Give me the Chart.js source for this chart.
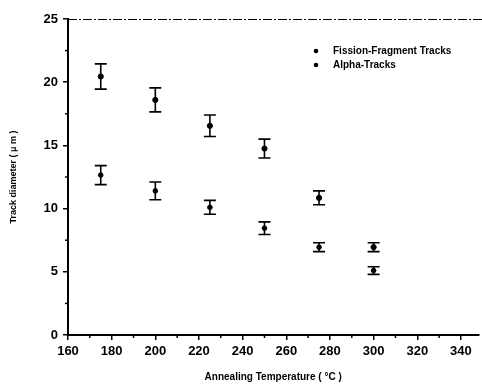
<!DOCTYPE html>
<html>
<head>
<meta charset="utf-8">
<script src="https://cdn.jsdelivr.net/npm/chart.js@4.4.0/dist/chart.umd.min.js"></script>
<style>
  html, body { margin: 0; padding: 0; background: #fff; }
  #c { display: block; }
</style>
</head>
<body>
<canvas id="c" width="482" height="386"></canvas>
<script>
// ---- data ----
const temps = [175, 200, 225, 250, 275, 300];
const fissionDiam = [20.45, 18.6, 16.55, 14.75, 10.85, 6.95];
const fissionErr  = [1.0, 0.95, 0.85, 0.75, 0.55, 0.35];
const alphaDiam   = [12.65, 11.4, 10.1, 8.45, 6.95, 5.1];
const alphaErr    = [0.75, 0.7, 0.55, 0.5, 0.35, 0.3];
const seriesLabels = ['Fission-Fragment Tracks', 'Alpha-Tracks'];
const xTicks = [160, 180, 200, 220, 240, 260, 280, 300, 320, 340];
const xMinorTicks = [170, 190, 210, 230, 250, 270, 290, 310, 330];
const yTicks = [0, 5, 10, 15, 20, 25];
const yMinorTicks = [2.5, 7.5, 12.5, 17.5, 22.5];

const FONT = '"Liberation Sans", Arial, sans-serif';

function pts(xs, ys, es) {
  return xs.map((x, i) => ({ x: x, y: ys[i], err: es[i] }));
}

const extras = {
  id: 'extras',
  beforeDatasetsDraw(chart) {
    const ctx = chart.ctx;
    const xs = chart.scales.x, ys = chart.scales.y;
    ctx.save();
    ctx.strokeStyle = '#000';
    ctx.lineWidth = 1.6;
    chart.data.datasets.forEach(ds => {
      ds.data.forEach(p => {
        const px = xs.getPixelForValue(p.x);
        const top = ys.getPixelForValue(p.y + p.err);
        const bot = ys.getPixelForValue(p.y - p.err);
        const w = 6;
        ctx.beginPath();
        ctx.moveTo(px, top); ctx.lineTo(px, bot);
        ctx.moveTo(px - w, top); ctx.lineTo(px + w, top);
        ctx.moveTo(px - w, bot); ctx.lineTo(px + w, bot);
        ctx.stroke();
      });
    });
    ctx.restore();
  },
  afterDraw(chart) {
    const ctx = chart.ctx;
    const a = chart.chartArea;
    const xs = chart.scales.x, ys = chart.scales.y;
    ctx.save();
    // top dash-dot frame line
    ctx.strokeStyle = '#000';
    ctx.lineWidth = 1;
    ctx.setLineDash([9, 2, 2, 2]);
    ctx.beginPath();
    ctx.moveTo(a.left, a.top + 0.5);
    ctx.lineTo(chart.width, a.top + 0.5);
    ctx.stroke();
    ctx.setLineDash([]);
    // minor ticks
    ctx.lineWidth = 1.5;
    xMinorTicks.forEach(v => {
      const px = xs.getPixelForValue(v);
      ctx.beginPath();
      ctx.moveTo(px, a.bottom); ctx.lineTo(px, a.bottom + 3);
      ctx.stroke();
    });
    yMinorTicks.forEach(v => {
      const py = ys.getPixelForValue(v);
      ctx.beginPath();
      ctx.moveTo(a.left - 3, py); ctx.lineTo(a.left, py);
      ctx.stroke();
    });
    // legend
    const lx = 316, ly = [51, 65];
    ctx.font = 'bold 10px ' + FONT;
    ctx.textBaseline = 'middle';
    ctx.fillStyle = '#000';
    chart.data.datasets.forEach((ds, i) => {
      ctx.beginPath();
      ctx.arc(lx, ly[i], 2.3, 0, Math.PI * 2);
      ctx.fill();
      ctx.fillText(ds.label, 333, ly[i]);
    });
    ctx.restore();
  }
};

new Chart(document.getElementById('c'), {
  type: 'scatter',
  data: {
    datasets: [
      {
        label: seriesLabels[0],
        data: pts(temps, fissionDiam, fissionErr),
        backgroundColor: '#000', borderColor: '#000',
        pointRadius: 2.6, pointHoverRadius: 2.6
      },
      {
        label: seriesLabels[1],
        data: pts(temps, alphaDiam, alphaErr),
        backgroundColor: '#000', borderColor: '#000',
        pointRadius: 2.3, pointHoverRadius: 2.3
      }
    ]
  },
  options: {
    responsive: false,
    animation: false,
    devicePixelRatio: 1,
    layout: { padding: { top: 19, right: 0, left: 0, bottom: 0 } },
    plugins: { legend: { display: false }, tooltip: { enabled: false } },
    scales: {
      x: {
        type: 'linear', min: 160, max: 348,
        afterBuildTicks: s => { s.ticks = xTicks.map(v => ({ value: v })); },
        afterFit: s => { s.height = 51; },
        grid: { drawOnChartArea: false, drawTicks: true, tickLength: 5, color: '#000', lineWidth: 1.5 },
        border: { display: true, color: '#000', width: 2 },
        ticks: { color: '#000', font: { family: FONT, size: 13, weight: 'bold' }, padding: 4, maxRotation: 0, autoSkip: false },
        title: { display: true, text: 'Annealing Temperature ( °C )', color: '#000',
                 font: { family: FONT, size: 10, weight: 'bold' }, padding: { top: 0, bottom: 3 } }
      },
      y: {
        type: 'linear', min: 0, max: 25,
        afterBuildTicks: s => { s.ticks = yTicks.map(v => ({ value: v })); },
        afterFit: s => { s.width = 68; },
        grid: { drawOnChartArea: false, drawTicks: true, tickLength: 5, color: '#000', lineWidth: 1.5 },
        border: { display: true, color: '#000', width: 2 },
        ticks: { color: '#000', font: { family: FONT, size: 13, weight: 'bold' }, padding: 5, autoSkip: false },
        title: { display: true, text: 'Track diameter ( μ m )', color: '#000',
                 font: { family: FONT, size: 9, weight: 'bold' }, padding: { top: 8, bottom: 0 } }
      }
    }
  },
  plugins: [extras]
});
</script>
</body>
</html>
